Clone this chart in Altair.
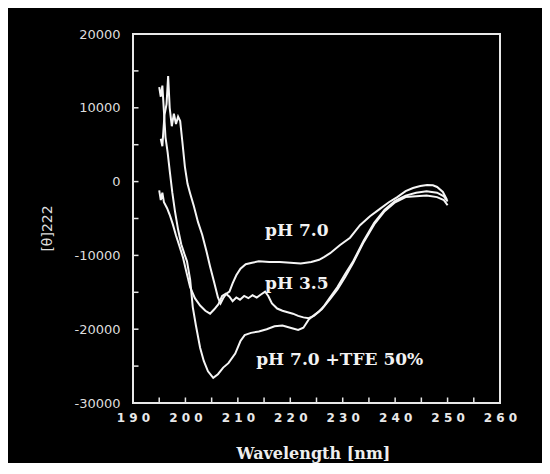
import altair as alt
import pandas as pd

# --- data ---
ph70_nm = [195.3, 195.6, 196.0, 196.4, 196.7, 197.0, 197.4, 197.8, 198.2, 198.6, 199.0, 199.4, 199.9,
           200.4, 200.9, 201.6, 202.4, 203.2, 204.0, 204.7, 205.5, 206.2, 206.7, 207.2, 207.8, 208.4,
           209.0, 209.7, 210.5, 211.5, 212.7, 214.0, 216.0, 218.0, 220.0, 222.0, 224.0, 225.5, 226.5,
           227.6, 229.5, 231.4, 233.3, 235.2, 237.1, 238.8, 240.4, 242.0, 243.4, 244.8, 246.1, 247.2,
           248.0, 249.1, 249.9]
ph70_val = [5800, 4800, 9000, 10500, 14300, 10000, 7500, 9200, 7800, 8800, 8200, 5500, 2000,
            -300, -1600, -3300, -5500, -7200, -9400, -11500, -13700, -15700, -16500, -15800, -15200, -14900,
            -13800, -12700, -11800, -11200, -11000, -10800, -10900, -10900, -11000, -11100, -10900, -10600, -10200,
            -9700, -8600, -7600, -5900, -4700, -3700, -2800, -2100, -1300, -870, -600, -460, -500,
            -730, -1400, -2500]

ph35_nm = [195.0, 195.3, 195.6, 195.9, 196.5, 197.0, 197.6, 198.2, 198.8, 199.5, 200.2, 200.9, 201.8,
           202.8, 203.8, 204.7, 205.5, 206.3, 207.0, 207.7, 208.4, 209.0, 209.7, 210.4, 211.2, 212.0,
           212.8, 213.6, 214.4, 215.2, 215.8, 216.5, 217.5, 218.5, 219.5, 220.5, 221.5, 222.5, 223.5,
           224.5, 225.5, 226.5, 227.5, 229.0, 230.5, 232.0, 234.0, 236.0, 238.0, 240.0, 242.0, 244.0,
           246.0, 248.0, 249.3, 250.0]
ph35_val = [-1200, -2500, -1500, -2800, -3600, -4500, -5800, -7300, -8600, -10200, -12300, -14300, -15800,
            -16800, -17500, -17900, -17300, -16600, -15500, -15200, -15600, -16200, -15700, -16000, -15500, -15800,
            -15400, -15700, -15300, -14900, -15500, -16500, -17200, -17500, -17700, -17900, -18200, -18400, -18500,
            -18200, -17600, -16800, -15800, -14300, -12500, -10800, -8000, -5600, -3800, -2600, -1900, -1500,
            -1300, -1500, -2000, -2700]

tfe_nm = [195.0, 195.3, 195.6, 195.9, 196.2, 196.6, 197.0, 197.5, 198.0, 198.6, 199.2, 199.8, 200.3,
          200.9, 201.4, 202.0, 202.8, 203.5, 204.3, 205.3, 206.2, 207.2, 208.2, 209.5, 210.5, 211.3,
          212.5, 214.0, 215.5, 217.0, 218.5, 220.0, 221.5, 222.5, 223.5, 224.5, 226.0, 227.5, 229.0,
          230.5, 232.0, 234.0, 236.0, 238.0, 240.0, 242.0, 244.0, 246.0, 248.0, 249.3, 250.0]
tfe_val = [12800, 11500, 13000, 9500, 6000, 4000, 1500, -1500, -4000, -6500, -8500, -9800, -10800,
           -13300, -17000, -19500, -22500, -24300, -25700, -26600, -26100, -25200, -24600, -23300, -21600, -20800,
           -20500, -20300, -20000, -19600, -19500, -19800, -20100, -19800, -18700, -18100, -17300, -16000, -14600,
           -12900, -11000, -8200, -5800, -4000, -2800, -2100, -2000, -1900, -2100, -2500, -3200]

label_text = ["pH  7.0", "pH  3.5", "pH 7.0  +TFE  50%"]
label_nm = [215.2, 215.2, 213.5]
label_val = [-6700, -13900, -24200]

x_ticks = list(range(190, 261, 5))
y_ticks = list(range(-30000, 20001, 5000))
x_minor = list(range(195, 256, 5))          # inward tick marks along the bottom edge
y_minor = list(range(-25000, 15001, 5000))  # inward tick marks along the left edge

rows = []
for name, xs, ys in [("pH 7.0", ph70_nm, ph70_val), ("pH 3.5", ph35_nm, ph35_val),
                     ("pH 7.0 +TFE 50%", tfe_nm, tfe_val)]:
    for i, (a, b) in enumerate(zip(xs, ys)):
        rows.append({"series": name, "nm": a, "val": b, "order": i})
df = pd.DataFrame(rows)
lab = pd.DataFrame({"text": label_text, "nm": label_nm, "val": label_val})

x_scale = alt.Scale(domain=[190, 260], nice=False, zero=False)
y_scale = alt.Scale(domain=[-30000, 20000], nice=False, zero=False)

x_axis = alt.Axis(
    values=x_ticks,
    labelExpr="datum.value % 10 == 0 ? substring(''+datum.value,0,1) + ' ' + substring(''+datum.value,1,2) + ' ' + substring(''+datum.value,2,3) : ''",
    domain=False, grid=False, ticks=False, tickSize=0,
    labelPadding=9, labelFont="DejaVu Sans", labelFontWeight="bold", labelFontSize=12,
    labelColor="#e8e8e8", labelFlush=False, labelOverlap=False,
    title="Wavelength [nm]", titleFont="DejaVu Serif", titleFontWeight="bold", titleFontSize=16,
    titleColor="#eeeeee", titleX=180, titleY=50, titleBaseline="middle", titleAlign="center",
)
y_axis = alt.Axis(
    values=y_ticks,
    labelExpr="datum.value % 10000 == 0 ? '' + datum.value : ''",
    domain=False, grid=False, ticks=False, tickSize=0,
    labelPadding=13, labelFont="DejaVu Sans", labelFontSize=13, labelColor="#dddddd",
    labelFlush=False, labelOverlap=False,
    title="[θ]222", titleFont="DejaVu Sans", titleFontSize=14, titleFontWeight="normal",
    titleColor="#dddddd", titleX=-86, titleY=194, titleAngle=270, titleBaseline="middle",
    titleAlign="center",
)

lines = alt.Chart(df).mark_line(color="#f5f5f5", strokeWidth=2).encode(
    x=alt.X("nm:Q", scale=x_scale, axis=x_axis),
    y=alt.Y("val:Q", scale=y_scale, axis=y_axis),
    detail="series:N",
    order="order:Q",
)

xt = alt.Chart(pd.DataFrame({"v": x_minor})).mark_tick(
    orient="vertical", size=11, thickness=1.5, color="#e6e6e6", clip=True, opacity=1
).encode(
    x=alt.X("v:Q", scale=x_scale),
    y=alt.datum(-30000, scale=y_scale),
)
yt = alt.Chart(pd.DataFrame({"v": y_minor})).mark_tick(
    orient="horizontal", size=11, thickness=1.5, color="#e6e6e6", clip=True, opacity=1
).encode(
    y=alt.Y("v:Q", scale=y_scale),
    x=alt.datum(190, scale=x_scale),
)

texts = alt.Chart(lab).mark_text(
    align="left", baseline="middle", font="DejaVu Serif", fontWeight="bold", fontSize=17, color="#f2f2f2"
).encode(
    x=alt.X("nm:Q", scale=x_scale),
    y=alt.Y("val:Q", scale=y_scale),
    text="text:N",
)

chart = alt.layer(lines, xt, yt, texts).properties(
    width=367, height=369,
    background="black",
    padding={"left": 125, "top": 26, "right": 42, "bottom": 60},
    autosize=alt.AutoSizeParams(type="none"),
).configure_view(stroke="#e8e8e8", strokeWidth=2)

chart.save("out.html", embed_options={"renderer": "svg", "actions": False})
